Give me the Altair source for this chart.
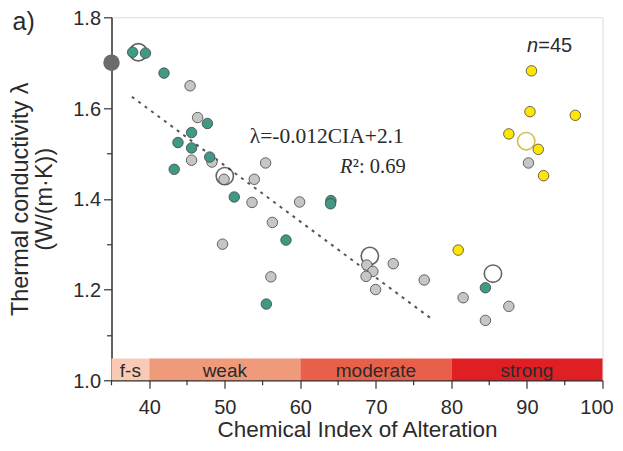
import altair as alt
import pandas as pd

# ---- data ----
teal_cia = [37.8, 39.5, 41.95, 47.7, 45.6, 43.8, 45.6, 48.0, 43.3, 51.25, 64.05, 64.0, 58.1, 55.5, 84.5]
teal_lam = [1.723, 1.721, 1.677, 1.566, 1.546, 1.524, 1.512, 1.492, 1.465, 1.404, 1.396, 1.389, 1.309, 1.168, 1.204]
grey_cia = [45.4, 46.4, 45.6, 48.3, 55.4, 49.9, 53.9, 53.6, 59.9, 56.3, 49.7, 56.1,
            68.8, 69.6, 68.7, 69.96, 72.3, 76.4, 81.55, 87.6, 84.5, 90.2]
grey_lam = [1.649, 1.579, 1.485, 1.481, 1.479, 1.443, 1.443, 1.392, 1.393, 1.348, 1.300, 1.228,
            1.254, 1.240, 1.229, 1.200, 1.257, 1.221, 1.182, 1.163, 1.132, 1.479]
yellow_cia = [80.9, 90.6, 90.4, 96.4, 87.6, 91.5, 92.2]
yellow_lam = [1.287, 1.682, 1.592, 1.584, 1.543, 1.509, 1.451]
mean_cia = [38.55, 50.0, 69.2, 85.5, 89.9]
mean_lam = [1.723, 1.450, 1.274, 1.235, 1.527]
mean_colors = ["#222222", "#222222", "#222222", "#222222", "#c2a400"]
ref_cia = [35.0]
ref_lam = [1.70]
trend_cia = [37.7, 77.4]
trend_lam = [1.625, 1.135]
band_start = [35, 40, 60, 80]
band_end = [40, 60, 80, 100]
band_names = ["f-s", "weak", "moderate", "strong"]
band_colors = ["#f9cbb7", "#f09a7c", "#e8604a", "#e01f25"]
x_major = [40, 50, 60, 70, 80, 90, 100]
x_minor = [35, 45, 55, 65, 75, 85, 95]

TXT = "#2b2b2b"
X = alt.Scale(domain=[35, 100], nice=False, zero=False)
Y = alt.Scale(domain=[1.0, 1.8], nice=False, zero=False)

bands = pd.DataFrame({"s": band_start, "e": band_end, "name": band_names, "c": band_colors,
                      "mid": [(a + b) / 2 for a, b in zip(band_start, band_end)]})
bands["y0"] = 1.0
bands["y1"] = 1.048
bands["ym"] = 1.021

xaxis = alt.Axis(values=x_major, format="d",
                 title="Chemical Index of Alteration", grid=False, tickSize=8,
                 labelFontSize=20, titleFontSize=22.5, labelPadding=9, titlePadding=1.5,
                 labelOffset={"condition": {"test": "datum.value == 100", "value": -6}, "value": 0},
                 labelFont="Liberation Sans", titleFont="Liberation Sans", titleFontWeight="normal",
                 labelColor=TXT, titleColor=TXT, tickColor="#333", domainColor="#333",
                 domainWidth=1.5, tickWidth=1.2, labelFlush=False, labelOverlap=False)
yaxis = alt.Axis(values=[1.0, 1.1, 1.2, 1.3, 1.4, 1.5, 1.6, 1.7, 1.8],
                 labelExpr="round(datum.value*10) % 2 == 0 ? format(datum.value, '.1f') : ''",
                 title=["Thermal conductivity λ", "(W/(m·K))"], grid=False,
                 tickSize={"condition": {"test": "round(datum.value*10) % 2 == 0", "value": 8}, "value": 5},
                 labelFontSize=20, titleFontSize=23.5, labelPadding=3, titlePadding=16,
                 titleLineHeight=24, labelOffset=1,
                 labelFont="Liberation Sans", titleFont="Liberation Sans", titleFontWeight="normal",
                 labelColor=TXT, titleColor=TXT, tickColor="#333", domainColor="#333",
                 domainWidth=1.5, tickWidth=1.2, labelFlush=False, labelOverlap=False)

band_rect = alt.Chart(bands).mark_rect().encode(
    x=alt.X("s:Q", scale=X, axis=xaxis), x2="e:Q",
    y=alt.Y("y0:Q", scale=Y, axis=yaxis), y2="y1:Q",
    color=alt.Color("c:N", scale=None))
band_txt = alt.Chart(bands).mark_text(font="Liberation Sans", fontSize=19, color=TXT,
                                      baseline="middle").encode(
    x=alt.X("mid:Q", scale=X), y=alt.Y("ym:Q", scale=Y), text="name:N")

minor_ticks = alt.Chart(pd.DataFrame({"x": x_minor})).mark_rule(
    color="#333333", strokeWidth=1.2).encode(
    x=alt.X("x:Q", scale=X), y=alt.value(363), y2=alt.value(368))

trend = alt.Chart(pd.DataFrame({"x": trend_cia, "y": trend_lam})).mark_line(
    color="#555555", strokeWidth=2, strokeDash=[3, 5]).encode(
    x=alt.X("x:Q", scale=X), y=alt.Y("y:Q", scale=Y))

means = alt.Chart(pd.DataFrame({"x": mean_cia, "y": mean_lam, "c": mean_colors})).mark_point(
    filled=False, size=300, strokeWidth=1.6, shape="circle").encode(
    x=alt.X("x:Q", scale=X), y=alt.Y("y:Q", scale=Y), color=alt.Color("c:N", scale=None))

def pts(xs, ys, fill):
    return alt.Chart(pd.DataFrame({"x": xs, "y": ys})).mark_circle(
        size=110, fill=fill, stroke="#444444", strokeWidth=0.8, opacity=1).encode(
        x=alt.X("x:Q", scale=X), y=alt.Y("y:Q", scale=Y))

grey = pts(grey_cia, grey_lam, "#c6c6c6")
teal = pts(teal_cia, teal_lam, "#3f9984")
yellow = pts(yellow_cia, yellow_lam, "#ffe600")
ref = alt.Chart(pd.DataFrame({"x": ref_cia, "y": ref_lam})).mark_circle(
    size=270, color="#6b6b6b", opacity=1).encode(
    x=alt.X("x:Q", scale=X), y=alt.Y("y:Q", scale=Y))

eq = alt.Chart(pd.DataFrame({"x": [53.3], "y": [1.523], "t": ["λ=-0.012CIA+2.1"]})).mark_text(
    font="Liberation Serif", fontSize=21.5, color=TXT, align="left", baseline="alphabetic").encode(
    x=alt.X("x:Q", scale=X), y=alt.Y("y:Q", scale=Y), text="t:N")
r_it = alt.Chart(pd.DataFrame({"x": [65.25], "y": [1.457], "t": ["R"]})).mark_text(
    font="Liberation Serif", fontSize=20.5, fontStyle="italic", color=TXT, align="left",
    baseline="alphabetic").encode(x=alt.X("x:Q", scale=X), y=alt.Y("y:Q", scale=Y), text="t:N")
r_rest = alt.Chart(pd.DataFrame({"x": [66.95], "y": [1.457], "t": ["²: 0.69"]})).mark_text(
    font="Liberation Serif", fontSize=20.5, color=TXT, align="left",
    baseline="alphabetic").encode(x=alt.X("x:Q", scale=X), y=alt.Y("y:Q", scale=Y), text="t:N")
n_it = alt.Chart(pd.DataFrame({"x": [90.0], "y": [1.7236], "t": ["n"]})).mark_text(
    font="Liberation Sans", fontSize=20, fontStyle="italic", color=TXT, align="left",
    baseline="alphabetic").encode(x=alt.X("x:Q", scale=X), y=alt.Y("y:Q", scale=Y), text="t:N")
n_rest = alt.Chart(pd.DataFrame({"x": [91.5], "y": [1.7236], "t": ["=45"]})).mark_text(
    font="Liberation Sans", fontSize=20, color=TXT, align="left",
    baseline="alphabetic").encode(x=alt.X("x:Q", scale=X), y=alt.Y("y:Q", scale=Y), text="t:N")
panel = alt.Chart(pd.DataFrame({"t": ["a)"]})).mark_text(
    font="Liberation Sans", fontSize=25, color=TXT, align="left", baseline="alphabetic").encode(
    x=alt.value(-99), y=alt.value(12.5), text="t:N")

chart = alt.layer(band_rect, band_txt, minor_ticks, trend, means, grey, teal, yellow, ref,
                  eq, r_it, r_rest, n_it, n_rest, panel).properties(
    width=491, height=363,
    autosize=alt.AutoSizeParams(type="none"),
    padding={"left": 103.5, "top": 9.3, "right": 12, "bottom": 62.5},
).configure_view(stroke="#333333", strokeWidth=1.5).configure(background="white")

chart.save("out.html", embed_options={"renderer": "svg", "actions": False})
